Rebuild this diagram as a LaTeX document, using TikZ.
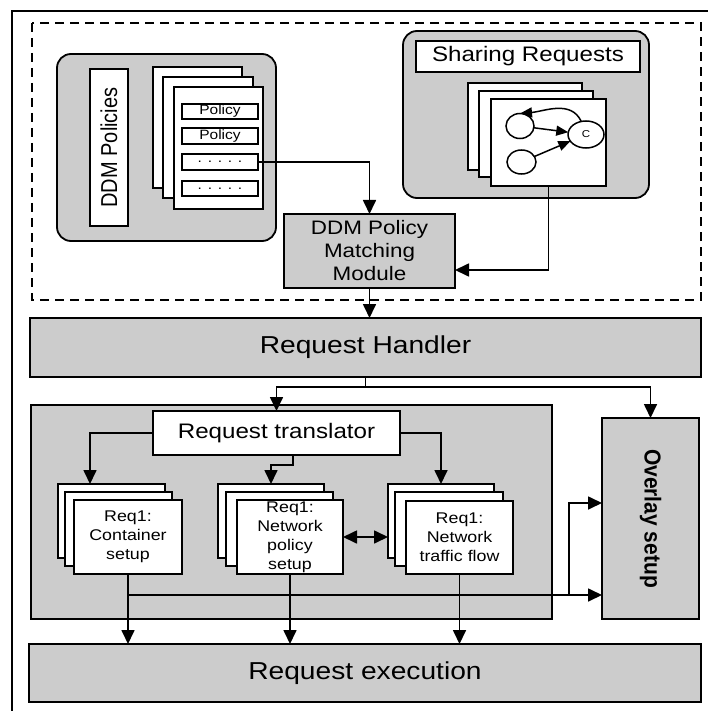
\documentclass[tikz,border=0pt]{standalone}
\usepackage{fontspec}
\setmainfont{Liberation Sans}[FakeStretch=1.15]
\newfontfamily\plainsf{Liberation Sans}
\usetikzlibrary{arrows.meta,shapes.geometric}
\definecolor{boxgray}{RGB}{204,204,204}
\newcommand\fs[1]{\fontsize{#1}{#1}\selectfont}
\newcommand\mybox[7]{\node[#1, minimum width={(#5-#3)*1pt}, minimum height={(#6-#4)*1pt}] (#2) at (#3,#4) {#7};}
\tikzset{
  bx/.style={draw=black, line width=1.8pt, inner sep=0pt, outer sep=0pt, anchor=north west, align=center},
  gbx/.style={bx, fill=boxgray},
  wbx/.style={bx, fill=white},
  tip/.tip={Triangle[length=14pt,width=13pt]},
  con/.style={line width=1.7pt, -tip},
  ln/.style={line width=1.7pt},
  dcon/.style={line width=1.7pt, tip-tip},
  scon/.style={line width=1.5pt, -{Triangle[length=12pt,width=10pt]}},
  circ/.style={draw=black, ellipse, line width=1.5pt, fill=white, inner sep=0pt, outer sep=0pt},
  itm/.style={wbx, line width=1.5pt, font=\fs{13.5}},
  req/.style={font={\fontsize{15.5}{19}\selectfont}},
  modf/.style={font={\fontsize{19.5}{23}\selectfont}},
}
\begin{document}
\begin{tikzpicture}[x=1pt,y=-1pt]
\useasboundingbox (0,0) rectangle (707,711);
% frames
\draw[line width=2.4pt] (12,11) rectangle (712,716);
\draw[line width=1.6pt, dash pattern=on 9pt off 6pt] (32,23) rectangle (701,300);

% DDM policies group
\mybox{gbx, rounded corners=14pt}{ddmg}{57}{54}{276}{241}{}
\node[wbx, anchor=center, rotate=90, minimum width=157pt, minimum height=38pt] (ddml) at (109,147.5)
  {\scalebox{1}[1.15]{\plainsf\fs{20}DDM Policies}};
\mybox{wbx}{pa}{153}{67}{242}{188}{}
\mybox{wbx}{pb}{163}{77}{253}{198}{}
\mybox{wbx}{pc}{174}{87}{263}{209}{}
\mybox{itm}{i1}{182}{104}{258}{119}{Policy}
\mybox{itm}{i2}{182}{128}{258}{144}{Policy}
\mybox{itm}{i3}{182}{154}{258}{170}{. . . . .}
\mybox{itm}{i4}{182}{181}{258}{196}{. . . . .}

% matching module
\mybox{gbx, modf}{mod}{284}{214}{455}{288}{DDM Policy\\Matching\\Module}

% sharing requests group
\mybox{gbx, rounded corners=14pt}{srg}{403}{31}{649}{198}{}
\mybox{wbx}{srl}{416}{41}{640}{72}{\fs{21}Sharing Requests}
\mybox{wbx}{sa}{468}{83}{582}{170}{}
\mybox{wbx}{sb}{479}{91}{593}{177}{}
\mybox{wbx}{sc}{491}{99}{606}{186}{}
\node[circ, minimum width=28pt, minimum height=25pt] (A) at (520,126) {};
\node[circ, minimum width=29pt, minimum height=24pt] (B) at (521.5,162) {};
\node[circ, minimum width=36pt, minimum height=27pt, font=\fs{10}] (C) at (586,134.5) {C};
\draw[scon] (A) -- (C);
\draw[scon] (B) -- (C);
\draw[scon] (C.110) to[out=115,in=5] (A.north);

% connectors top
\draw[con] (i3.east) -| (mod.north);
\coordinate (k1) at (548,270);
\draw[con] (sc.south) |- (mod.east |- k1);
\draw[con] (mod.south) -- (mod.south |- 0,318);

% request handler
\mybox{gbx}{hand}{30}{318}{701}{377}{\fs{24.5}Request Handler}

% translator container
\mybox{gbx}{cont}{31}{405}{552}{619}{}
\mybox{wbx}{trans}{153}{411}{400}{455}{\fs{21}Request translator}

% overlay (rotated -90: west = top, south = left)
\node[gbx, anchor=center, rotate=-90, minimum width=201pt, minimum height=97pt] (ovl) at (650.5,518.5)
  {\scalebox{1}[1.1]{\plainsf\bfseries\fs{21}Overlay setup}};

% execution
\mybox{gbx}{exec}{29}{644}{701}{702}{\fs{24.5}Request execution}

% stacks
\mybox{wbx}{c1}{58}{484}{165}{558}{}
\mybox{wbx}{c2}{65}{492}{172}{566}{}
\mybox{wbx, req}{c3}{74}{500}{182}{574}{Req1:\\Container\\setup}
\mybox{wbx}{p1}{218}{484}{324}{558}{}
\mybox{wbx}{p2}{226}{492}{333}{566}{}
\mybox{wbx, req}{p3}{237}{500}{343}{574}{Req1:\\Network\\policy\\setup}
\mybox{wbx}{t1}{388}{484}{494}{558}{}
\mybox{wbx}{t2}{395}{492}{503}{566}{}
\mybox{wbx, req}{t3}{406}{501}{513}{574}{Req1:\\Network\\traffic flow}

% handler connectors
\coordinate (j1) at (365.5,387);
\draw[ln] (hand.south) -- (j1);
\draw[con] (j1) -| (trans.north);
\draw[con] (j1) -| (ovl.west);

% translator connectors
\coordinate (k3) at (90,433);
\draw[con] (trans.west) -| (k3 |- c1.north);
\coordinate (k2) at (293,465);
\draw[con] (trans.south -| k2) -- (k2) -| (p1.north);
\draw[con] (trans.east) -| (t1.north);
\draw[dcon] (p3.east) -- (t1.west |- p3.east);

% bottom connectors
\draw[con] (c3.south) -- (c3.south |- exec.north);
\draw[con] (p3.south) -- (p3.south |- exec.north);
\draw[con] (t3.south) -- (t3.south |- exec.north);
\coordinate (h) at (128,595);
\coordinate (b) at (569,503);
\draw[con] (h) -- (ovl.south |- h);
\draw[con] (b |- h) -- (b) -- (ovl.south |- b);
\end{tikzpicture}
\end{document}
